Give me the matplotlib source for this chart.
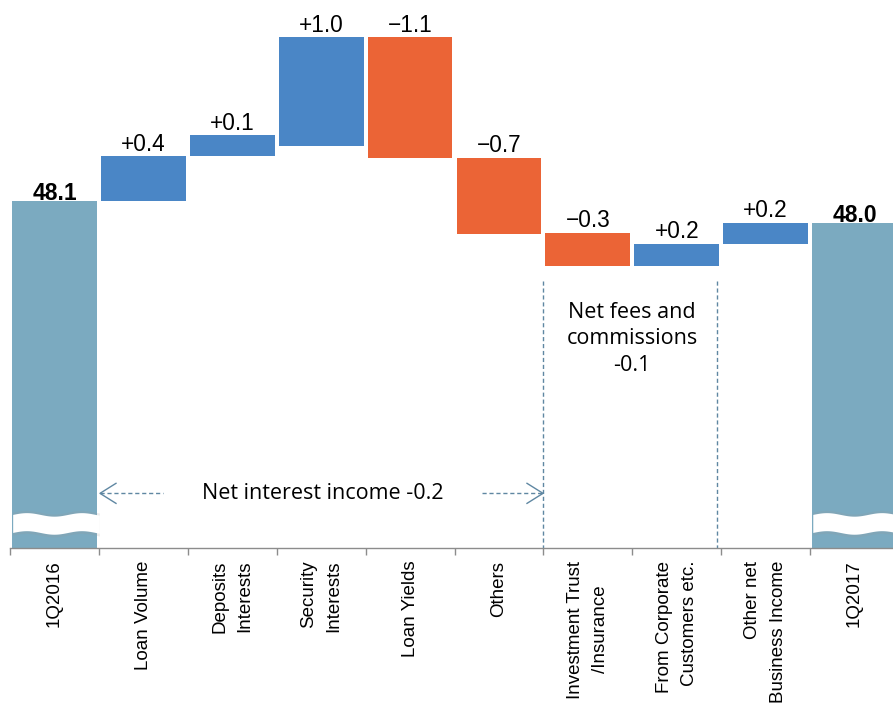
import matplotlib
matplotlib.use("Agg")
import matplotlib.pyplot as plt
import numpy as np

# ---- data ----
categories = ["1Q2016", "Loan Volume", "Deposits\nInterests", "Security\nInterests",
              "Loan Yields", "Others", "Investment Trust\n/Insurance",
              "From Corporate\nCustomers etc.", "Other net\nBusiness Income", "1Q2017"]
value_labels = ["48.1", "+0.4", "+0.1", "+1.0", "\u22121.1", "\u22120.7",
                "\u22120.3", "+0.2", "+0.2", "48.0"]
kinds = ["total", "up", "up", "up", "down", "down", "down", "up", "up", "total"]
axis_floor = 44.95
bar_low = [axis_floor, 48.10, 48.50, 48.59, 48.49, 47.80, 47.51, 47.51, 47.71, axis_floor]
bar_high = [48.10, 48.50, 48.69, 49.58, 49.58, 48.49, 47.81, 47.71, 47.90, 47.90]
label_align = ["right", "right", "right", "right", "right", "right", "center",
               "right", "right", "right"]
group_labels = ["Net interest income -0.2", "Net fees and\ncommissions\n-0.1"]

colors = {"total": "#7BAAC0", "up": "#4A86C6", "down": "#EB6436"}
line_col = "#5F87A2"

W, H = 893, 709
fig = plt.figure(figsize=(W / 100, H / 100), dpi=100)
ax_left = 10 / W
ax_w = 889 / W
ax_bottom = (H - 548) / H
ax = fig.add_axes([ax_left, ax_bottom, ax_w, 1 - ax_bottom])

n = len(categories)
x = np.arange(n)
ymax = 49.918
ax.set_xlim(-0.5, n - 0.5)
ax.set_ylim(axis_floor, ymax)

heights = [h - l for l, h in zip(bar_low, bar_high)]
ax.bar(x, heights, bottom=bar_low, width=0.955,
       color=[colors[k] for k in kinds], zorder=2)

# value labels
for i in range(n):
    if kinds[i] == "total":
        ax.annotate(value_labels[i], (x[i], bar_high[i]), xytext=(0, 0.3),
                    textcoords="offset points", ha="center", va="baseline",
                    fontsize=16.5, fontweight="bold", family="Liberation Sans", zorder=4)
    else:
        ax.annotate(value_labels[i], (x[i], bar_high[i]), xytext=(0, 3.8),
                    textcoords="offset points", ha="center", va="baseline",
                    fontsize=16.3, family="Liberation Sans", zorder=4)

# break marks on total bars
px_per_unit = 110.0
def ypx(p):
    return 48.1 + (200 - p) / px_per_unit

band_top, band_bot = ypx(513), ypx(531)
for (x0, x1) in [(-0.47, 0.505), (8.53, 9.5)]:
    xs = np.linspace(x0, x1, 200)
    wave = 0.016 * np.sin((xs - x0) / 0.62 * 2 * np.pi)
    ax.fill_between(xs, band_bot + wave - 0.025, band_top + wave + 0.02,
                    color="#999999", alpha=0.18, lw=0, zorder=2.5)
    ax.fill_between(xs, band_bot + wave, band_top + wave,
                    color="white", lw=0, zorder=3)

# group separators (vertical dashed)
def xpx(p):
    return (p - 10) / 88.9 - 0.5

for p in [543, 717]:
    ax.plot([xpx(p), xpx(p)], [ypx(280), axis_floor], color=line_col,
            lw=1.0, ls=(0, (3, 2)), zorder=1)

# dashed arrows for net interest income
ya = ypx(492)
ax.plot([xpx(100), xpx(163)], [ya, ya], color=line_col, lw=1.0, ls=(0, (3, 2)), zorder=1)
ax.plot([xpx(482), xpx(543)], [ya, ya], color=line_col, lw=1.0, ls=(0, (3, 2)), zorder=1)
hx = 16 / 88.9
hy = 10 / px_per_unit
tip = xpx(100)
ax.plot([tip + hx, tip, tip + hx], [ya + hy, ya, ya - hy], color=line_col, lw=1.0, zorder=1)
tip = xpx(543)
ax.plot([tip - hx, tip, tip - hx], [ya + hy, ya, ya - hy], color=line_col, lw=1.0, zorder=1)

ax.text(xpx(323), ya, group_labels[0], ha="center", va="center",
        fontsize=15.5, family="Open Sans")
ax.text(xpx(632), ypx(338), group_labels[1], ha="center", va="center",
        fontsize=15.5, family="Open Sans", linespacing=1.35)

# axes styling
for s in ["top", "left", "right"]:
    ax.spines[s].set_visible(False)
ax.spines["bottom"].set_color("#8C8C8C")
ax.spines["bottom"].set_linewidth(1.0)
ax.set_yticks([])
ax.set_xticks(x)
ax.set_xticklabels([])
ax.tick_params(axis="x", which="major", length=0)
ax.set_xticks(np.arange(n + 1) - 0.5, minor=True)
ax.tick_params(axis="x", which="minor", length=5, color="#8C8C8C", width=1.0)

for i in range(n):
    ax.annotate(categories[i], (x[i], axis_floor), xytext=(0, -9),
                textcoords="offset points", ha="center", va="top", rotation=90,
                fontsize=13.5, family="Liberation Sans", multialignment=label_align[i],
                linespacing=1.65, annotation_clip=False)

fig.savefig("out.png", dpi=100)
